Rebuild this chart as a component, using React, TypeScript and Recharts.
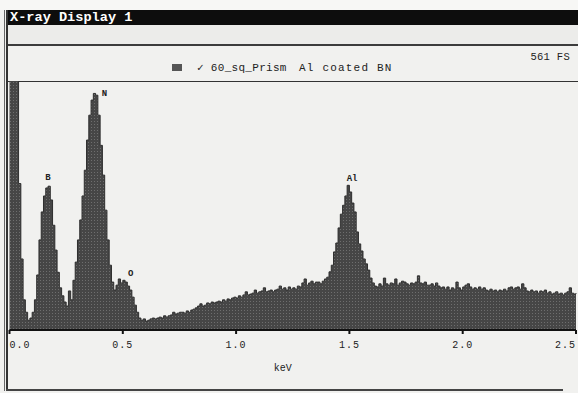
import React from 'react';
import { AreaChart, Area, XAxis, YAxis, ReferenceDot } from 'recharts';

// EDS spectrum, 10 eV channels, counts (full scale = 561)
const CHANNEL_KEV = 0.01;
const FULL_SCALE = 561;

// 0.00 - 0.29 keV : noise peak + B
const lowEnergyCounts = [
  610, 620, 605, 590, 330, 160, 68, 40, 22, 27,
  40, 68, 124, 203, 266, 302, 320, 324, 293, 236,
  180, 130, 95, 77, 63, 54, 88, 68, 112, 153,
];

// 0.30 - 0.60 keV : N + O
const nitrogenOxygenCounts = [
  203, 248, 302, 360, 428, 484, 518, 533, 529, 484,
  416, 349, 270, 203, 146, 108, 90, 101, 115, 106,
  112, 108, 99, 90, 74, 56, 40, 27, 22, 25, 20,
];

// 0.61 - 1.35 keV : bremsstrahlung background
const backgroundCounts = [
  22, 25, 27, 25, 27, 29, 27, 32, 29, 32,
  34, 40, 36, 38, 40, 40, 38, 43, 40, 45,
  47, 50, 54, 59, 54, 56, 61, 59, 63, 61,
  63, 65, 63, 68, 65, 70, 68, 72, 74, 72,
  77, 74, 79, 86, 79, 81, 83, 90, 83, 86,
  88, 95, 86, 88, 90, 86, 90, 92, 99, 92,
  95, 90, 97, 92, 95, 92, 99, 97, 106, 115,
  101, 106, 110, 104, 108,
];

// 1.36 - 1.62 keV : Al
const aluminiumCounts = [
  108, 104, 110, 115, 119, 131, 146, 176, 196, 230,
  261, 281, 302, 326, 311, 286, 266, 221, 194, 178,
  160, 149, 135, 117, 106, 99, 97,
];

// 1.63 - 2.50 keV : tail
const tailCounts = [
  104, 99, 117, 104, 101, 106, 104, 115, 101, 106,
  110, 108, 104, 101, 106, 104, 108, 122, 106, 104,
  108, 101, 101, 104, 99, 106, 99, 95, 97, 92,
  97, 90, 95, 92, 108, 95, 90, 97, 101, 104,
  97, 92, 95, 92, 97, 92, 95, 90, 88, 92,
  88, 90, 86, 90, 88, 92, 88, 95, 97, 92,
  95, 97, 92, 104, 95, 88, 86, 90, 86, 88,
  83, 88, 86, 90, 83, 86, 81, 83, 86, 81,
  83, 79, 83, 86, 95, 83, 81, 83,
];

const keVTicks = [0, 0.5, 1, 1.5, 2, 2.5];

const peakLabels = [
  { element: 'B', keV: 0.17, counts: 324 },
  { element: 'N', keV: 0.375, counts: 533 },
  { element: 'O', keV: 0.5, counts: 112 },
  { element: 'Al', keV: 1.49, counts: 326 },
];

const spectrum = [
  ...lowEnergyCounts,
  ...nitrogenOxygenCounts,
  ...backgroundCounts,
  ...aluminiumCounts,
  ...tailCounts,
].map((counts, i) => ({ keV: +(i * CHANNEL_KEV).toFixed(2), counts }));

const MONO = '"Liberation Mono", "DejaVu Sans Mono", monospace';

// where each element symbol sits relative to its peak top
const labelShift: Record<string, [number, number]> = {
  B: [0, -8],
  N: [10, 1],
  O: [8, -6],
  Al: [5, -6],
};

const KevTick = (props: any) => {
  const { x, y, payload, index, visibleTicksCount } = props;
  const anchor = index === 0 ? 'start' : index === visibleTicksCount - 1 ? 'end' : 'middle';
  return (
    <text x={x} y={y} dy={12} textAnchor={anchor} fontFamily={MONO} fontSize={10} fill="#222" letterSpacing={1}>
      {payload.value.toFixed(1)}
    </text>
  );
};

const PeakLabel = (element: string) => (props: any) => {
  const { viewBox } = props;
  const [dx, dy] = labelShift[element];
  return (
    <text
      x={viewBox.x + viewBox.width / 2 + dx}
      y={viewBox.y + viewBox.height / 2 + dy}
      textAnchor="middle"
      dominantBaseline="central"
      fontFamily={MONO}
      fontSize={9}
      fontWeight="bold"
      fill="#222"
    >
      {element}
    </text>
  );
};

const line = (style: React.CSSProperties): React.CSSProperties => ({ position: 'absolute', ...style });

export default function App() {
  return (
    <div style={{ position: 'absolute', top: 0, left: 0, width: 578, height: 393, background: '#f1f1ef', overflow: 'hidden' }}>
      {/* window chrome */}
      <div style={line({ left: 0, top: 0, width: 578, height: 10, background: '#f7f7f5' })} />
      <div style={line({ left: 7, top: 10, width: 571, height: 15, background: '#0d0d0d' })} />
      <div
        style={line({
          left: 10, top: 10, height: 15, lineHeight: '15px', color: '#fff',
          fontFamily: MONO, fontWeight: 'bold', fontSize: 13.6,
        })}
      >
        X-ray Display 1
      </div>
      <div style={line({ left: 7, top: 25, width: 571, height: 19, background: '#ececea' })} />
      <div style={line({ left: 7, top: 44, width: 571, height: 2, background: '#3c3c3c' })} />
      <div style={line({ left: 4, top: 10, width: 1, height: 381, background: '#666' })} />
      <div style={line({ left: 6, top: 10, width: 2, height: 381, background: '#333' })} />
      <div style={line({ left: 8, top: 81, width: 570, height: 1, background: '#333' })} />
      <div style={line({ left: 6, top: 389, width: 557, height: 2, background: '#444' })} />

      {/* legend */}
      <div style={line({ left: 172, top: 64, width: 10, height: 7, background: '#555' })} />
      <div style={line({ left: 197, top: 61, fontFamily: MONO, fontSize: 11, lineHeight: '14px', color: '#222', letterSpacing: 0.3, whiteSpace: 'pre' })}>
        {'\u2713 60_sq_Prism'}
      </div>
      <div style={line({ left: 299, top: 61, fontFamily: MONO, fontSize: 11, lineHeight: '14px', color: '#222', letterSpacing: 1.2, whiteSpace: 'pre' })}>
        Al coated BN
      </div>
      <div style={line({ right: 8, top: 51, fontFamily: MONO, fontSize: 10.5, lineHeight: '13px', color: '#222', letterSpacing: 0.3, whiteSpace: 'pre' })}>
        {`${FULL_SCALE} FS`}
      </div>

      <div style={{ position: 'absolute', top: 0, left: 0 }}>
        <AreaChart width={578} height={393} data={spectrum} margin={{ top: 81, right: 2, bottom: 0, left: 9.5 }}>
          <defs>
            <pattern id="dither" width="3" height="3" patternUnits="userSpaceOnUse">
              <rect width="3" height="3" fill="#464646" />
              <rect x="1" y="1" width="1" height="1" fill="#6e6e6e" />
            </pattern>
          </defs>
          <XAxis
            type="number"
            dataKey="keV"
            domain={[0, 2.5]}
            ticks={keVTicks}
            interval={0}
            height={63}
            axisLine={{ stroke: '#111', strokeWidth: 2 }}
            tickLine={{ stroke: '#111', strokeWidth: 2 }}
            tickSize={4}
            tick={<KevTick />}
            label={{ value: 'keV', position: 'insideBottom', offset: 22, dx: -10, fontFamily: MONO, fontSize: 10, fill: '#222' }}
          />
          <YAxis type="number" domain={[0, FULL_SCALE]} allowDataOverflow hide />
          <Area
            type="stepAfter"
            dataKey="counts"
            stroke="#2e2e2e"
            strokeWidth={1}
            fill="url(#dither)"
            fillOpacity={1}
            dot={false}
            activeDot={false}
            isAnimationActive={false}
          />
          {peakLabels.map((p) => (
            <ReferenceDot
              key={p.element}
              x={p.keV}
              y={p.counts}
              r={0}
              fill="none"
              stroke="none"
              label={PeakLabel(p.element)}
            />
          ))}
        </AreaChart>
      </div>
    </div>
  );
}
